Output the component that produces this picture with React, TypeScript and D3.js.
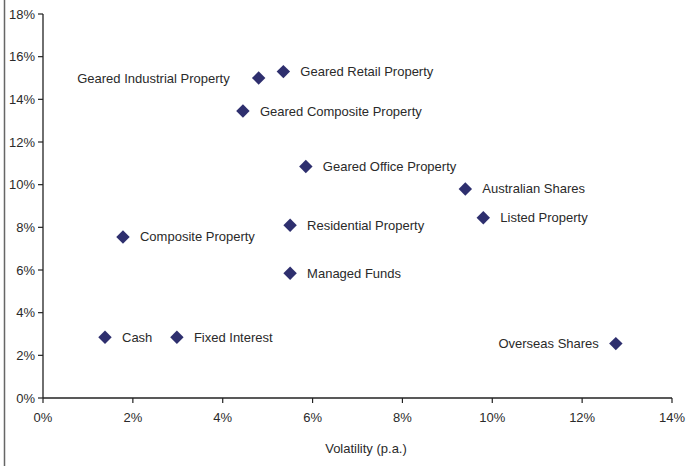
import React from "react";
import * as d3 from "d3";

const names = [
  "Geared Industrial Property",
  "Geared Retail Property",
  "Geared Composite Property",
  "Geared Office Property",
  "Australian Shares",
  "Listed Property",
  "Residential Property",
  "Composite Property",
  "Managed Funds",
  "Cash",
  "Fixed Interest",
  "Overseas Shares",
];
const volatility = [4.8, 5.35, 4.45, 5.85, 9.4, 9.8, 5.5, 1.78, 5.5, 1.38, 2.98, 12.75];
const returns = [15.0, 15.3, 13.45, 10.85, 9.8, 8.45, 8.1, 7.55, 5.85, 2.85, 2.85, 2.55];
const labelLeft = [true, false, false, false, false, false, false, false, false, false, false, true];
const xTicks = [0, 2, 4, 6, 8, 10, 12, 14];
const yTicks = [0, 2, 4, 6, 8, 10, 12, 14, 16, 18];

const W = 690;
const H = 466;
const FONT = "'Liberation Sans Narrow', 'Liberation Sans', Arial, sans-serif";

export default function App() {
  const x = d3.scaleLinear().domain([0, 14]).range([43, 672]);
  const y = d3.scaleLinear().domain([0, 18]).range([398, 14]);
  const diamond = d3.symbol().type(d3.symbolDiamond2).size(115)();
  const textColor = "#2a2a2a";
  const fs = 13;
  return (
    <svg
      width={W}
      height={H}
      style={{ position: "absolute", left: 0, top: 0, background: "#fff" }}
      fontFamily={FONT}
    >
      <rect x={0} y={0} width={W} height={H} fill="#fff" />
      <line x1={4.5} x2={4.5} y1={0} y2={H} stroke="#666" strokeWidth={1.5} />
      {/* axes */}
      <line x1={x(0)} x2={x(0)} y1={y(18)} y2={y(0)} stroke="#222" strokeWidth={1.3} />
      <line x1={x(0)} x2={x(14)} y1={y(0)} y2={y(0)} stroke="#222" strokeWidth={1.5} />
      {yTicks.map((t) => (
        <g key={"y" + t}>
          <line x1={x(0) - 5} x2={x(0)} y1={y(t)} y2={y(t)} stroke="#222" strokeWidth={1.2} />
          <text
            x={x(0) - 8}
            y={y(t)}
            dy="0.35em"
            textAnchor="end"
            fontSize={fs}
            fill={textColor}
          >
            {t + "%"}
          </text>
        </g>
      ))}
      {xTicks.map((t) => (
        <g key={"x" + t}>
          <line x1={x(t)} x2={x(t)} y1={y(0)} y2={y(0) + 5} stroke="#222" strokeWidth={1.2} />
          <text x={x(t)} y={y(0) + 24} textAnchor="middle" fontSize={fs} fill={textColor}>
            {t + "%"}
          </text>
        </g>
      ))}
      <text x={366} y={453} textAnchor="middle" fontSize={fs} fill={textColor}>
        Volatility (p.a.)
      </text>
      {names.map((n, i) => {
        const cx = x(volatility[i]);
        const cy = y(returns[i]);
        const left = labelLeft[i];
        return (
          <g key={n}>
            <path d={diamond!} transform={`translate(${cx},${cy})`} fill="#2e2f6e" />
            <text
              x={left ? cx - (i === 0 ? 29 : 17) : cx + 17}
              y={cy}
              dy="0.35em"
              textAnchor={left ? "end" : "start"}
              fontSize={fs}
              fill={textColor}
            >
              {n}
            </text>
          </g>
        );
      })}
    </svg>
  );
}
